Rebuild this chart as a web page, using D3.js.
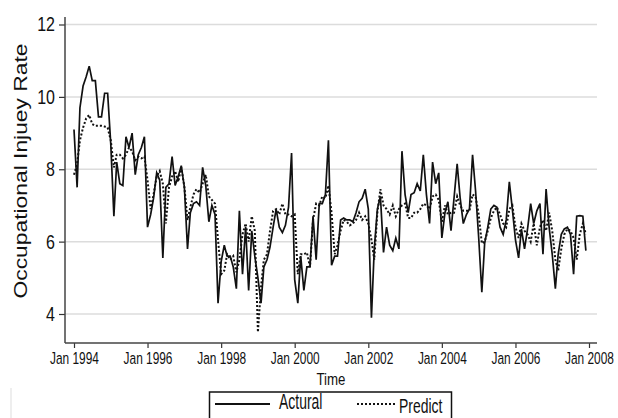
<!DOCTYPE html>
<html>
<head>
<meta charset="utf-8">
<script src="https://cdn.jsdelivr.net/npm/d3@7"></script>
<style>
  body { margin: 0; background: #fff; }
  svg { display: block; }
  text { font-family: "Liberation Sans", Arial, sans-serif; fill: #111; }
</style>
</head>
<body>
<svg id="chart" width="618" height="418"></svg>
<script>
// Monthly series, Jan 1994 .. Dec 2007
const START_MONTH = new Date(1994, 0, 1);

const actual = [
  9.1, 7.5, 9.7, 10.3, 10.55, 10.85, 10.45, 10.45, 9.45, 9.45, 10.1, 10.1,
  8.7, 6.7, 8.2, 7.6, 7.55, 8.9, 8.6, 9.0, 7.85, 8.4, 8.6, 8.9,
  6.4, 6.75, 7.2, 7.9, 7.7, 5.55, 7.5, 7.6, 8.35, 7.55, 7.8, 8.1,
  7.5, 5.8, 6.8, 7.05, 7.1, 7.0, 8.05, 7.55, 6.55, 7.0, 6.75, 4.3,
  5.45, 5.9, 5.6, 5.6, 5.3, 4.7, 6.85, 5.1, 6.4, 4.65, 6.3, 5.6,
  5.0, 4.3, 5.3, 5.5, 5.85, 6.4, 6.9, 6.4, 6.25, 6.45, 6.95, 8.45,
  4.95, 4.3, 5.6, 4.65, 5.3, 5.3, 6.7, 5.5, 7.05, 7.05, 7.3, 8.8,
  5.35, 5.6, 5.6, 6.6, 6.65, 6.6, 6.6, 6.55, 6.8, 7.1, 7.2, 7.45,
  6.9, 3.9, 5.8, 6.9, 7.25, 5.7, 6.4, 5.9, 5.75, 6.1, 5.8, 8.5,
  7.3, 6.8, 7.3, 7.35, 7.6, 7.4, 8.4, 7.3, 6.5, 8.2, 7.6, 7.9,
  6.1, 6.8, 7.1, 6.3, 7.2, 8.15, 7.2, 6.5, 6.75, 6.9, 8.4, 7.4,
  6.1, 4.6, 5.95, 6.4, 6.9, 7.0, 6.95, 6.4, 6.2, 6.6, 7.65, 6.9,
  6.05, 5.55, 6.35, 5.8, 6.35, 7.05, 6.5, 6.85, 7.05, 5.65, 7.45, 6.4,
  5.65, 4.7, 5.65, 6.2, 6.35, 6.4, 6.2, 5.1, 6.7, 6.72, 6.7, 5.75
];

const predict = [
  7.85, 8.15, 8.8, 9.15, 9.4, 9.5, 9.25, 9.2, 9.2, 9.2, 9.18, 9.15,
  8.8, 8.05, 8.4, 8.4, 8.3, 8.4, 8.6, 8.5, 8.25, 8.35, 8.3, 8.35,
  7.7, 6.9, 7.3, 7.8, 7.95, 7.6, 6.5, 7.5, 7.8, 7.95, 7.65, 8.05,
  7.5, 6.6, 6.95, 7.3, 7.45, 7.35, 7.6, 7.85, 7.25, 7.15, 7.05, 6.05,
  5.1, 5.2, 5.65, 5.5, 5.6, 5.15, 5.5, 6.2, 6.5, 6.0, 6.7, 6.3,
  3.5, 4.75, 5.5, 5.65, 6.3, 6.85, 6.9, 6.75, 7.05, 6.75, 6.75, 6.7,
  6.75, 5.1, 5.65, 5.65, 5.7, 5.3, 6.6, 7.05, 7.0, 7.25, 7.2, 7.55,
  6.8, 5.65, 5.9, 6.3, 6.6, 6.55, 6.45, 6.5, 6.6, 6.8, 6.6, 6.7,
  6.5, 6.05, 5.5, 6.8, 7.45, 7.0, 6.9, 6.75, 7.0, 6.7, 6.9, 7.0,
  7.05, 6.65, 6.65, 6.8, 6.8, 6.9, 7.05, 7.0, 6.9, 7.25, 7.3, 7.15,
  6.55, 7.0, 6.75, 6.8, 6.8, 7.25, 7.0, 6.85, 6.85, 6.85, 7.3, 7.25,
  6.75, 5.95, 6.0, 6.3, 6.65, 6.85, 6.95, 6.75, 6.5, 6.4, 6.9, 7.0,
  6.4, 6.1, 6.5, 6.3, 6.2, 6.0, 6.5, 5.9, 6.4, 6.6, 6.3, 6.8,
  6.3, 5.5, 5.2, 5.8, 6.2, 6.35, 6.3, 6.1, 5.5, 6.2, 6.5, 6.2
];

const yTicks = [4, 6, 8, 10, 12];
const xTickYears = [1994, 1996, 1998, 2000, 2002, 2004, 2006, 2008];
const seriesNames = ["Actural", "Predict"];

// plot region (pixels)
const LEFT = 65, RIGHT = 597, TOP = 17, BOTTOM = 343;

const months = d3.timeMonth.range(START_MONTH, d3.timeMonth.offset(START_MONTH, actual.length));

const svg = d3.select("#chart");

// squeeze text horizontally to mimic the condensed face of the original
function narrow(sel, factor) {
  sel.each(function () {
    const w = this.getComputedTextLength();
    d3.select(this)
      .attr("textLength", w * factor)
      .attr("lengthAdjust", "spacingAndGlyphs");
  });
}

const x = d3.scaleTime()
  .domain([new Date(1994, 0, 1), new Date(2008, 0, 1)])
  .range([74, 589]);

const y = d3.scaleLinear()
  .domain([4, 12])
  .range([314, 24.5]);

// faint frame left over in the original picture
svg.append("line").attr("x1", 11).attr("x2", 11).attr("y1", 388).attr("y2", 418)
  .attr("stroke", "#e8e8e8").attr("stroke-width", 1.5);

// gridlines
svg.append("g")
  .selectAll("line")
  .data(yTicks)
  .join("line")
  .attr("x1", LEFT).attr("x2", RIGHT)
  .attr("y1", d => y(d)).attr("y2", d => y(d))
  .attr("stroke", "#dcdcdc")
  .attr("stroke-width", 1.5);

// series
const line = d3.line()
  .x((d, i) => x(months[i]))
  .y(d => y(d));

svg.append("path")
  .datum(predict)
  .attr("fill", "none")
  .attr("stroke", "#111")
  .attr("stroke-width", 2)
  .attr("stroke-dasharray", "2,2")
  .attr("d", line);

svg.append("path")
  .datum(actual)
  .attr("fill", "none")
  .attr("stroke", "#111")
  .attr("stroke-width", 1.7)
  .attr("d", line);

// axes
const yAxis = d3.axisLeft(y).tickValues(yTicks).tickSize(6).tickPadding(4);
const gy = svg.append("g").attr("transform", `translate(${LEFT},0)`).call(yAxis);
gy.select(".domain").remove();
gy.selectAll("text").style("font-size", "20px").style("font-family", null).call(narrow, 0.8);
gy.selectAll(".tick line").attr("stroke", "#333").attr("stroke-width", 1.2);

const xAxis = d3.axisBottom(x)
  .tickValues(xTickYears.map(yr => new Date(yr, 0, 1)))
  .tickFormat(d3.timeFormat("Jan %Y"))
  .tickSize(5)
  .tickPadding(4);
const gx = svg.append("g").attr("transform", `translate(0,${BOTTOM})`).call(xAxis);
gx.select(".domain").remove();
// labels are centred on x=0 inside each tick, so a horizontal scale keeps them centred
gx.selectAll("text")
  .style("font-size", "17px")
  .style("font-family", null)
  .attr("transform", "scale(0.7,1)");
gx.selectAll(".tick line").attr("stroke", "#333").attr("stroke-width", 1.2);

svg.append("line").attr("x1", LEFT).attr("x2", LEFT).attr("y1", TOP).attr("y2", BOTTOM)
  .attr("stroke", "#444").attr("stroke-width", 1.5);
svg.append("line").attr("x1", LEFT).attr("x2", RIGHT).attr("y1", BOTTOM).attr("y2", BOTTOM)
  .attr("stroke", "#444").attr("stroke-width", 1.5);

// titles
svg.append("text")
  .attr("transform", "translate(27,171) rotate(-90)")
  .attr("text-anchor", "middle")
  .attr("textLength", 255)
  .attr("lengthAdjust", "spacingAndGlyphs")
  .style("font-size", "18px")
  .text("Occupational Injuey Rate");

svg.append("text")
  .attr("x", 331).attr("y", 385)
  .attr("text-anchor", "middle")
  .style("font-size", "17px")
  .text("Time")
  .call(narrow, 0.78);

// legend
const legend = svg.append("g");
legend.append("rect")
  .attr("x", 209.5).attr("y", 392).attr("width", 242).attr("height", 40)
  .attr("fill", "#fff").attr("stroke", "#111").attr("stroke-width", 1.5);

legend.append("line")
  .attr("x1", 215).attr("x2", 270).attr("y1", 404).attr("y2", 404)
  .attr("stroke", "#111").attr("stroke-width", 1.8);
legend.append("line")
  .attr("x1", 357).attr("x2", 395).attr("y1", 404).attr("y2", 404)
  .attr("stroke", "#111").attr("stroke-width", 2).attr("stroke-dasharray", "2,2");

legend.append("text")
  .attr("transform", "translate(279,409) scale(1,1.25)")
  .style("font-size", "17px")
  .text(seriesNames[0])
  .call(narrow, 0.82);
legend.append("text")
  .attr("transform", "translate(399,413) scale(1,1.2)")
  .style("font-size", "17px")
  .text(seriesNames[1])
  .call(narrow, 0.82);
</script>
</body>
</html>
